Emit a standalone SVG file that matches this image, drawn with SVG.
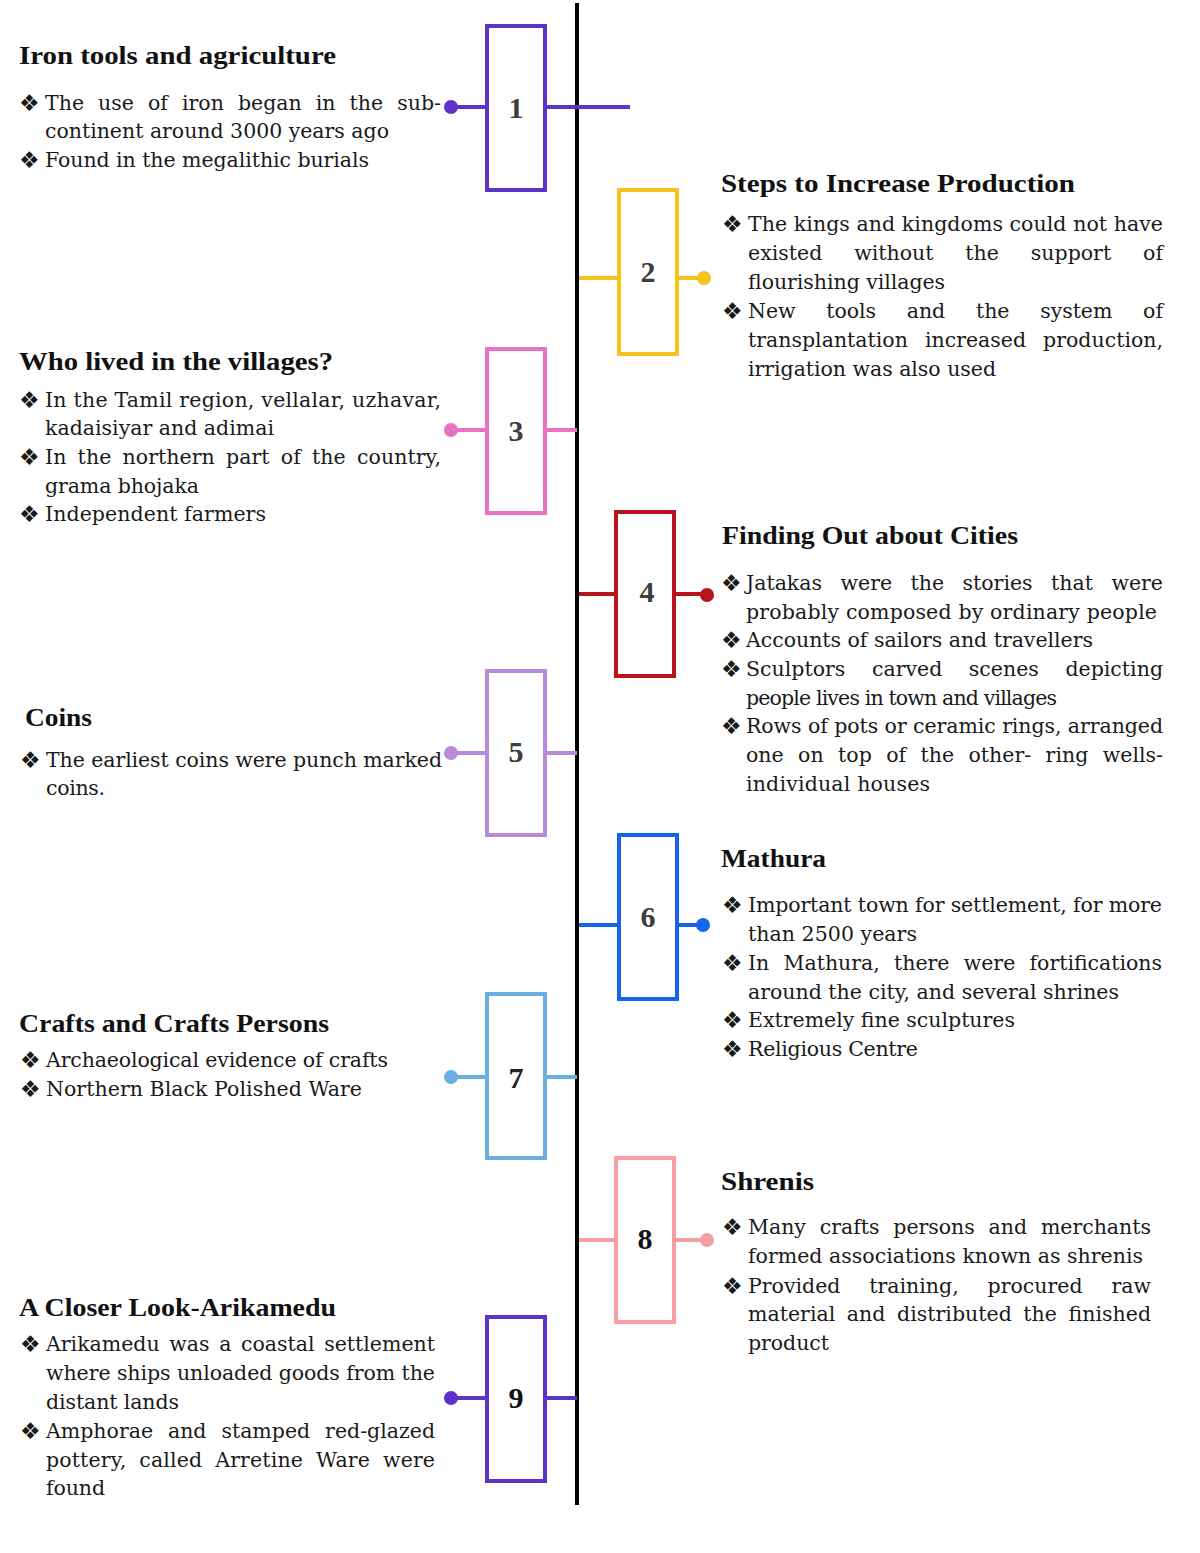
<svg xmlns="http://www.w3.org/2000/svg" width="1200" height="1553" viewBox="0 0 1200 1553">
<style>
.h{font-family:"Liberation Serif",serif;font-weight:bold;font-size:26px;fill:#111}
.t{font-family:"DejaVu Serif",serif;font-size:20.5px;fill:#1a1a1a}
.b{font-family:"DejaVu Sans",sans-serif;font-size:23px;fill:#1a1a1a}
.n{font-family:"Liberation Serif",serif;font-weight:bold;font-size:30px;text-anchor:middle;fill:#3d3d3d}
.box{fill:#fff;stroke-width:4}
.c{stroke-width:4;fill:none}
</style>
<rect width="1200" height="1553" fill="#fff"/>
<line x1="577" y1="3" x2="577" y2="1505" stroke="#000" stroke-width="4"/>
<g id="connectors">
 <g stroke="#5c33c9" fill="#5c33c9"><line class="c" x1="451" y1="107" x2="487" y2="107"/><line class="c" x1="545" y1="107" x2="630" y2="107"/><circle cx="451" cy="107" r="7" stroke="none"/></g>
 <g stroke="#f6c21c" fill="#f6c21c"><line class="c" x1="579" y1="278" x2="619" y2="278"/><line class="c" x1="677" y1="278" x2="704" y2="278"/><circle cx="704" cy="278" r="7" stroke="none"/></g>
 <g stroke="#e872c4" fill="#e872c4"><line class="c" x1="451" y1="430" x2="487" y2="430"/><line class="c" x1="545" y1="430" x2="577" y2="430"/><circle cx="451" cy="430" r="7" stroke="none"/></g>
 <g stroke="#b8141c" fill="#b8141c"><line class="c" x1="579" y1="594" x2="616" y2="594"/><line class="c" x1="674" y1="594" x2="707" y2="594"/><circle cx="707" cy="595" r="7" stroke="none"/></g>
 <g stroke="#b98ad9" fill="#b98ad9"><line class="c" x1="451" y1="753" x2="487" y2="753"/><line class="c" x1="545" y1="753" x2="577" y2="753"/><circle cx="451" cy="753" r="7" stroke="none"/></g>
 <g stroke="#1766ea" fill="#1766ea"><line class="c" x1="579" y1="925" x2="619" y2="925"/><line class="c" x1="677" y1="925" x2="703" y2="925"/><circle cx="703" cy="925" r="7" stroke="none"/></g>
 <g stroke="#6aafe0" fill="#6aafe0"><line class="c" x1="451" y1="1077" x2="487" y2="1077"/><line class="c" x1="545" y1="1077" x2="577" y2="1077"/><circle cx="451" cy="1077" r="7" stroke="none"/></g>
 <g stroke="#f4a0a2" fill="#f4a0a2"><line class="c" x1="579" y1="1240" x2="616" y2="1240"/><line class="c" x1="674" y1="1240" x2="707" y2="1240"/><circle cx="707" cy="1240" r="7" stroke="none"/></g>
 <g stroke="#5c33c9" fill="#5c33c9"><line class="c" x1="451" y1="1398" x2="487" y2="1398"/><line class="c" x1="545" y1="1398" x2="577" y2="1398"/><circle cx="451" cy="1398" r="7" stroke="none"/></g>
</g>
<g id="node-1"><rect class="box" x="487" y="26" width="58" height="164" stroke="#5c33c9"/><text class="n" x="516" y="118">1</text></g>
<g id="node-2"><rect class="box" x="619" y="190" width="58" height="164" stroke="#f6c21c"/><text class="n" x="648" y="282">2</text></g>
<g id="node-3"><rect class="box" x="487" y="349" width="58" height="164" stroke="#e872c4"/><text class="n" x="516" y="441">3</text></g>
<g id="node-4"><rect class="box" x="616" y="512" width="58" height="164" stroke="#b8141c"/><text class="n" x="647" y="602">4</text></g>
<g id="node-5"><rect class="box" x="487" y="671" width="58" height="164" stroke="#b98ad9"/><text class="n" x="516" y="762">5</text></g>
<g id="node-6"><rect class="box" x="619" y="835" width="58" height="164" stroke="#1766ea"/><text class="n" x="648" y="927">6</text></g>
<g id="node-7"><rect class="box" x="487" y="994" width="58" height="164" stroke="#6aafe0"/><text class="n" x="516" y="1088" style="fill:#222">7</text></g>
<g id="node-8"><rect class="box" x="616" y="1158" width="58" height="164" stroke="#f4a0a2"/><text class="n" x="645" y="1249" style="fill:#111">8</text></g>
<g id="node-9"><rect class="box" x="487" y="1317" width="58" height="164" stroke="#5c33c9"/><text class="n" x="516" y="1408" style="fill:#111">9</text></g>

<g id="topic-1">
 <text class="h" x="19" y="64" textLength="317" lengthAdjust="spacingAndGlyphs">Iron tools and agriculture</text>
 <text class="b" x="19" y="111">❖</text><text class="t" x="45" y="110" textLength="396" lengthAdjust="spacing" style="word-spacing:7.5px">The use of iron began in the sub-</text>
 <text class="t" x="45" y="138" textLength="344" lengthAdjust="spacing">continent around 3000 years ago</text>
 <text class="b" x="19" y="168">❖</text><text class="t" x="45" y="167" textLength="324" lengthAdjust="spacing">Found in the megalithic burials</text>
</g>
<g id="topic-2">
 <text class="h" x="721" y="192" textLength="354" lengthAdjust="spacingAndGlyphs">Steps to Increase Production</text>
 <text class="b" x="722" y="232">❖</text><text class="t" x="748" y="231" textLength="415" lengthAdjust="spacing">The kings and kingdoms could not have</text>
 <text class="t" x="748" y="260" textLength="415" lengthAdjust="spacing" style="word-spacing:25.4px">existed without the support of</text>
 <text class="t" x="748" y="289" textLength="197" lengthAdjust="spacing">flourishing villages</text>
 <text class="b" x="722" y="319">❖</text><text class="t" x="748" y="318" textLength="415" lengthAdjust="spacing" style="word-spacing:24.3px">New tools and the system of</text>
 <text class="t" x="748" y="347" textLength="415" lengthAdjust="spacing" style="word-spacing:10.5px">transplantation increased production,</text>
 <text class="t" x="748" y="376" textLength="248" lengthAdjust="spacing">irrigation was also used</text>
</g>
<g id="topic-3">
 <text class="h" x="19" y="370" textLength="314" lengthAdjust="spacingAndGlyphs">Who lived in the villages?</text>
 <text class="b" x="19" y="408">❖</text><text class="t" x="45" y="407" textLength="396" lengthAdjust="spacing">In the Tamil region, vellalar, uzhavar,</text>
 <text class="t" x="45" y="435" textLength="229" lengthAdjust="spacing">kadaisiyar and adimai</text>
 <text class="b" x="19" y="465">❖</text><text class="t" x="45" y="464" textLength="396" lengthAdjust="spacing" style="word-spacing:4.6px">In the northern part of the country,</text>
 <text class="t" x="45" y="493" textLength="154" lengthAdjust="spacing">grama bhojaka</text>
 <text class="b" x="19" y="522">❖</text><text class="t" x="45" y="521" textLength="221" lengthAdjust="spacing">Independent farmers</text>
</g>
<g id="topic-4">
 <text class="h" x="722" y="544" textLength="296" lengthAdjust="spacingAndGlyphs">Finding Out about Cities</text>
 <text class="b" x="721" y="591">❖</text><text class="t" x="746" y="590" textLength="417" lengthAdjust="spacing" style="word-spacing:12px">Jatakas were the stories that were</text>
 <text class="t" x="746" y="619" textLength="411" lengthAdjust="spacing">probably composed by ordinary people</text>
 <text class="b" x="721" y="648">❖</text><text class="t" x="746" y="647" textLength="347" lengthAdjust="spacing">Accounts of sailors and travellers</text>
 <text class="b" x="721" y="677">❖</text><text class="t" x="746" y="676" textLength="417" lengthAdjust="spacing" style="word-spacing:20px">Sculptors carved scenes depicting</text>
 <text class="t" x="746" y="705" textLength="311" lengthAdjust="spacing">people lives in town and villages</text>
 <text class="b" x="721" y="734">❖</text><text class="t" x="746" y="733" textLength="417" lengthAdjust="spacing">Rows of pots or ceramic rings, arranged</text>
 <text class="t" x="746" y="762" textLength="417" lengthAdjust="spacing" style="word-spacing:7.9px">one on top of the other- ring wells-</text>
 <text class="t" x="746" y="791" textLength="184" lengthAdjust="spacing">individual houses</text>
</g>
<g id="topic-5">
 <text class="h" x="25" y="726" textLength="67" lengthAdjust="spacingAndGlyphs">Coins</text>
 <text class="b" x="20" y="768">❖</text><text class="t" x="46" y="767" textLength="396" lengthAdjust="spacing">The earliest coins were punch marked</text>
 <text class="t" x="46" y="795" textLength="59" lengthAdjust="spacing">coins.</text>
</g>
<g id="topic-6">
 <text class="h" x="721" y="867" textLength="105" lengthAdjust="spacingAndGlyphs">Mathura</text>
 <text class="b" x="722" y="913">❖</text><text class="t" x="748" y="912" textLength="414" lengthAdjust="spacing">Important town for settlement, for more</text>
 <text class="t" x="748" y="941" textLength="169" lengthAdjust="spacing">than 2500 years</text>
 <text class="b" x="722" y="971">❖</text><text class="t" x="748" y="970" textLength="414" lengthAdjust="spacing" style="word-spacing:7.8px">In Mathura, there were fortifications</text>
 <text class="t" x="748" y="999" textLength="371" lengthAdjust="spacing">around the city, and several shrines</text>
 <text class="b" x="722" y="1028">❖</text><text class="t" x="748" y="1027" textLength="267" lengthAdjust="spacing">Extremely fine sculptures</text>
 <text class="b" x="722" y="1057">❖</text><text class="t" x="748" y="1056" textLength="170" lengthAdjust="spacing">Religious Centre</text>
</g>
<g id="topic-7">
 <text class="h" x="19" y="1032" textLength="310" lengthAdjust="spacingAndGlyphs">Crafts and Crafts Persons</text>
 <text class="b" x="20" y="1068">❖</text><text class="t" x="46" y="1067" textLength="342" lengthAdjust="spacing">Archaeological evidence of crafts</text>
 <text class="b" x="20" y="1097">❖</text><text class="t" x="46" y="1096" textLength="316" lengthAdjust="spacing">Northern Black Polished Ware</text>
</g>
<g id="topic-8">
 <text class="h" x="721" y="1190" textLength="93" lengthAdjust="spacingAndGlyphs">Shrenis</text>
 <text class="b" x="722" y="1235">❖</text><text class="t" x="748" y="1234" textLength="403" lengthAdjust="spacing" style="word-spacing:7.3px">Many crafts persons and merchants</text>
 <text class="t" x="748" y="1263" textLength="395" lengthAdjust="spacing">formed associations known as shrenis</text>
 <text class="b" x="722" y="1294">❖</text><text class="t" x="748" y="1293" textLength="403" lengthAdjust="spacing" style="word-spacing:22.4px">Provided training, procured raw</text>
 <text class="t" x="748" y="1321" textLength="403" lengthAdjust="spacing" style="word-spacing:5px">material and distributed the finished</text>
 <text class="t" x="748" y="1350" textLength="81" lengthAdjust="spacing">product</text>
</g>
<g id="topic-9">
 <text class="h" x="19" y="1316" textLength="317" lengthAdjust="spacingAndGlyphs">A Closer Look-Arikamedu</text>
 <text class="b" x="20" y="1352">❖</text><text class="t" x="46" y="1351" textLength="389" lengthAdjust="spacing" style="word-spacing:3.1px">Arikamedu was a coastal settlement</text>
 <text class="t" x="46" y="1380" textLength="389" lengthAdjust="spacing">where ships unloaded goods from the</text>
 <text class="t" x="46" y="1409" textLength="133" lengthAdjust="spacing">distant lands</text>
 <text class="b" x="20" y="1439">❖</text><text class="t" x="46" y="1438" textLength="389" lengthAdjust="spacing" style="word-spacing:8.4px">Amphorae and stamped red-glazed</text>
 <text class="t" x="46" y="1467" textLength="389" lengthAdjust="spacing" style="word-spacing:6.3px">pottery, called Arretine Ware were</text>
 <text class="t" x="46" y="1495" textLength="59" lengthAdjust="spacing">found</text>
</g>
</svg>
